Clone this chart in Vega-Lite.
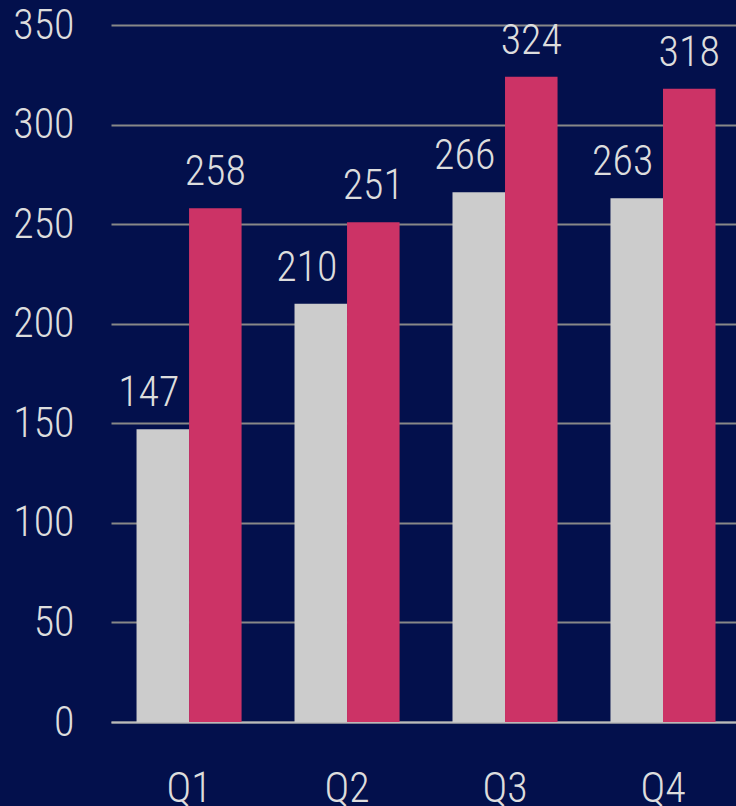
{
  "$schema": "https://vega.github.io/schema/vega-lite/v6.json",
  "width": 625,
  "height": 697,
  "autosize": {"type": "none"},
  "padding": {"left": 111, "top": 25, "right": 0, "bottom": 84},
  "background": "#03104c",
  "config": {
    "view": {"stroke": null},
    "font": "Liberation Sans Narrow, Arial Narrow, Roboto Condensed, Roboto, sans-serif"
  },
  "data": {
    "values": [
      {"quarter": "Q1", "series": "A", "value": 147},
      {"quarter": "Q1", "series": "B", "value": 258},
      {"quarter": "Q2", "series": "A", "value": 210},
      {"quarter": "Q2", "series": "B", "value": 251},
      {"quarter": "Q3", "series": "A", "value": 266},
      {"quarter": "Q3", "series": "B", "value": 324},
      {"quarter": "Q4", "series": "A", "value": 263},
      {"quarter": "Q4", "series": "B", "value": 318}
    ]
  },
  "encoding": {
    "x": {
      "field": "quarter",
      "type": "nominal",
      "scale": {"paddingInner": 0.335, "paddingOuter": 0.1456, "align": 0.555},
      "axis": {
        "title": null,
        "labelAngle": 0,
        "labelFontSize": 42,
        "labelFontWeight": 300,
        "labelColor": "#dddddd",
        "labelPadding": 46,
        "ticks": false,
        "domainColor": "#bbbbbb",
        "domainWidth": 2,
        "labelFont": "Liberation Sans Narrow, Arial Narrow, Roboto Condensed, Roboto, sans-serif"
      }
    },
    "xOffset": {"field": "series", "type": "nominal", "scale": {"paddingInner": 0, "paddingOuter": 0}},
    "y": {
      "field": "value",
      "type": "quantitative",
      "scale": {"domain": [0, 350], "nice": false},
      "axis": {
        "title": null,
        "values": [0, 50, 100, 150, 200, 250, 300, 350],
        "labelFontSize": 42,
        "labelFontWeight": 300,
        "labelColor": "#dddddd",
        "labelPadding": 37,
        "ticks": false,
        "domain": false,
        "gridColor": "#888888",
        "gridWidth": 2,
        "labelFont": "Liberation Sans Narrow, Arial Narrow, Roboto Condensed, Roboto, sans-serif"
      }
    }
  },
  "layer": [
    {
      "mark": {"type": "bar"},
      "encoding": {
        "color": {
          "field": "series",
          "type": "nominal",
          "scale": {"domain": ["A", "B"], "range": ["#cccccc", "#cc3366"]},
          "legend": null
        }
      }
    },
    {
      "transform": [{"filter": "datum.series === 'A'"}],
      "mark": {"type": "text", "baseline": "alphabetic", "dy": -23, "dx": -14, "fontSize": 42, "fontWeight": 300, "color": "#dddddd"},
      "encoding": {"text": {"field": "value", "type": "quantitative"}}
    },
    {
      "transform": [{"filter": "datum.series === 'B'"}],
      "mark": {"type": "text", "baseline": "alphabetic", "dy": -23, "fontSize": 42, "fontWeight": 300, "color": "#dddddd"},
      "encoding": {"text": {"field": "value", "type": "quantitative"}}
    }
  ]
}
